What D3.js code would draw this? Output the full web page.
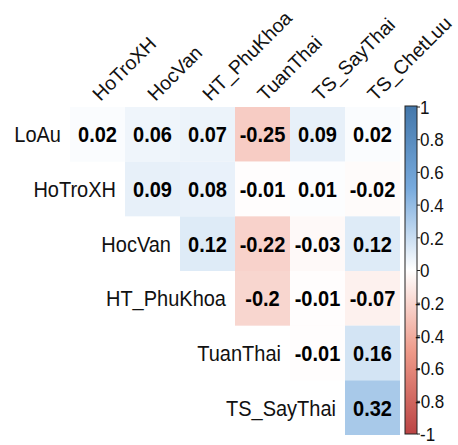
<!DOCTYPE html>
<html>
<head>
<meta charset="utf-8">
<script src="https://cdn.jsdelivr.net/npm/d3@7"></script>
<style>
  body { margin: 0; background: #fff; }
  svg text { font-family: "Liberation Sans", Arial, sans-serif; }
</style>
</head>
<body>
<div id="corr-chart"></div>
<script>
// variables (rows / columns of the upper triangle)
const rowNames = ['LoAu', 'HoTroXH', 'HocVan', 'HT_PhuKhoa', 'TuanThai', 'TS_SayThai'];
const colNames = ['HoTroXH', 'HocVan', 'HT_PhuKhoa', 'TuanThai', 'TS_SayThai', 'TS_ChetLuu'];

// correlations, one array per row, starting at the diagonal column
const loAu = [0.02, 0.06, 0.07, -0.25, 0.09, 0.02];
const hoTroXH = [0.09, 0.08, -0.01, 0.01, -0.02];
const hocVan = [0.12, -0.22, -0.03, 0.12];
const htPhuKhoa = [-0.2, -0.01, -0.07];
const tuanThai = [-0.01, 0.16];
const tsSayThai = [0.32];

const legendTicks = [1, 0.8, 0.6, 0.4, 0.2, 0, -0.2, -0.4, -0.6, -0.8, -1];

function drawCorrplot() {
    const container = d3.select('#corr-chart');
    container.html('');

    const W = 458, H = 445;
    const grid = {left: 70, right: 400, top: 107, bottom: 435};
    const stretch = 1.1; // text in the original is a bit taller than wide

    const rowArrays = [loAu, hoTroXH, hocVan, htPhuKhoa, tuanThai, tsSayThai];
    const cells = [];
    rowArrays.forEach((vals, i) => {
        vals.forEach((v, k) => {
            cells.push({row: rowNames[i], col: colNames[i + k], value: v});
        });
    });

    const svg = container.append('svg')
        .attr('width', W)
        .attr('height', H);

    const x = d3.scaleBand()
        .domain(colNames)
        .range([grid.left, grid.right]);

    const y = d3.scaleBand()
        .domain(rowNames)
        .range([grid.top, grid.bottom]);

    const color = d3.scaleLinear()
        .domain([-1, -0.5, 0, 0.5, 1])
        .range(['#BB4444', '#EE9988', '#FFFFFF', '#77AADD', '#4477AA'])
        .interpolate(d3.interpolateRgb);

    // cells
    svg.selectAll('rect.cell')
        .data(cells)
        .join('rect')
        .attr('class', 'cell')
        .attr('x', d => x(d.col))
        .attr('y', d => y(d.row))
        .attr('width', x.bandwidth())
        .attr('height', y.bandwidth())
        .attr('fill', d => color(d.value));

    svg.selectAll('text.val')
        .data(cells)
        .join('text')
        .attr('class', 'val')
        .attr('transform', d => `translate(${x(d.col) + x.bandwidth() / 2},${y(d.row) + y.bandwidth() / 2}) scale(1,${stretch})`)
        .attr('dy', '0.37em')
        .attr('text-anchor', 'middle')
        .style('font-size', '20px')
        .style('font-weight', 'bold')
        .attr('fill', '#000')
        .text(d => String(d.value));

    // row labels, right next to the first cell in each row
    svg.selectAll('text.rowlab')
        .data(rowNames)
        .join('text')
        .attr('class', 'rowlab')
        .attr('transform', (d, i) => `translate(${x(colNames[i]) - 9},${y(d) + y.bandwidth() / 2}) scale(1,${stretch})`)
        .attr('dy', '0.37em')
        .attr('text-anchor', 'end')
        .style('font-size', '20px')
        .attr('fill', '#111')
        .text(d => d);

    // column labels at 45 degrees
    svg.selectAll('text.collab')
        .data(colNames)
        .join('text')
        .attr('class', 'collab')
        .attr('transform', d => `translate(${x(d) + x.bandwidth() / 2 + 3},${grid.top - 5}) rotate(-45)`)
        .attr('text-anchor', 'start')
        .style('font-size', '19.5px')
        .attr('fill', '#111')
        .text(d => d);

    // colour legend
    const bar = {x: 405, w: 12, top: 106, bottom: 434};
    const gradient = svg.append('defs')
        .append('linearGradient')
        .attr('id', 'corr-grad')
        .attr('x1', '0%').attr('y1', '100%')
        .attr('x2', '0%').attr('y2', '0%');
    [-1, -0.5, 0, 0.5, 1].forEach(v => {
        gradient.append('stop')
            .attr('offset', `${(v + 1) * 50}%`)
            .attr('stop-color', color(v));
    });

    svg.append('rect')
        .attr('x', bar.x)
        .attr('y', bar.top)
        .attr('width', bar.w)
        .attr('height', bar.bottom - bar.top)
        .attr('fill', 'url(#corr-grad)')
        .attr('stroke', '#222')
        .attr('stroke-width', 1);

    const ly = d3.scaleLinear()
        .domain([1, -1])
        .range([107, 434]);

    svg.selectAll('line.ltick')
        .data(legendTicks)
        .join('line')
        .attr('class', 'ltick')
        .attr('x1', bar.x + bar.w)
        .attr('x2', bar.x + bar.w + 3)
        .attr('y1', d => ly(d))
        .attr('y2', d => ly(d))
        .attr('stroke', '#222');

    svg.selectAll('text.llab')
        .data(legendTicks)
        .join('text')
        .attr('class', 'llab')
        .attr('transform', d => `translate(${(d < 0 && d > -1) ? 415 : 420},${ly(d)}) scale(1,${stretch})`)
        .attr('dy', '0.36em')
        .style('font-size', '17px')
        .attr('fill', '#111')
        .text(d => String(d));
}

drawCorrplot();
</script>
</body>
</html>
